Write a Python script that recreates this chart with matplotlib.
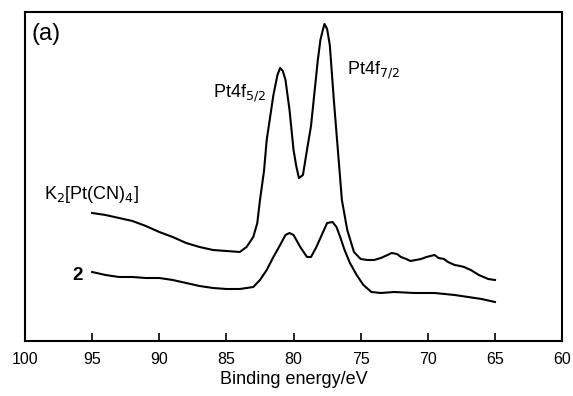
import matplotlib
matplotlib.use("Agg")
import matplotlib.pyplot as plt

# binding energy (eV) and intensity (arb. units)
k2_energy = [95, 94, 93, 92, 91, 90, 89, 88, 87, 86, 85, 84, 83.5, 83, 82.7, 82.5, 82.2, 82, 81.7,
             81.5, 81.2, 81, 80.8, 80.6, 80.3, 80, 79.8, 79.6, 79.3, 79, 78.7, 78.5, 78.2, 78,
             77.8, 77.7, 77.5, 77.3, 77, 76.7, 76.4, 76, 75.5, 75, 74.5, 74, 73.5, 73, 72.7,
             72.3, 72, 71.6, 71.3, 70.9, 70.5, 70.1, 69.8, 69.5, 69.2, 68.8, 68.5, 68, 67.6,
             67.3, 66.8, 66.2, 65.5, 65]
k2_counts = [128, 126, 123, 120, 115, 109, 104, 98, 94, 91, 90, 89, 94, 104, 118, 141, 170, 201, 228,
             246, 266, 273, 270, 261, 231, 191, 175, 163, 166, 191, 215, 241, 280, 301,
             312, 317, 312, 296, 241, 191, 141, 111, 89, 82, 81, 81, 83, 86, 88,
             87, 84, 82, 80, 81, 82, 84, 85, 86, 83, 82, 79, 76, 75,
             74, 71, 66, 62, 61]

cpd2_energy = [95, 94, 93, 92, 91, 90, 89, 88, 87, 86, 85, 84, 83, 82.5, 82, 81.5, 81, 80.6, 80.3,
               80, 79.5, 79, 78.7, 78.3, 77.8, 77.5, 77.1, 76.8, 76.5, 76.2, 75.8, 75.3, 74.8,
               74.2, 73.5, 72.5, 71, 69.5, 68, 67, 66, 65]
cpd2_counts = [69, 66, 64, 64, 63, 63, 61, 58, 55, 53, 52, 52, 54, 61, 71, 84, 96, 106, 108,
               106, 94, 84, 84, 94, 109, 118, 119, 114, 103, 91, 78, 66, 56,
               49, 48, 49, 48, 48, 46, 44, 42, 39]

x_ticks = [100, 95, 90, 85, 80, 75, 70, 65, 60]

plt.rcParams["font.family"] = ["Liberation Sans", "DejaVu Sans"]

fig = plt.figure(figsize=(5.73, 3.96), dpi=100)
ax = fig.add_axes([0.0436, 0.1389, 0.9374, 0.8308])

ax.plot(k2_energy, k2_counts, color="black", lw=1.5)
ax.plot(cpd2_energy, cpd2_counts, color="black", lw=1.5)

ax.set_xlim(100, 60)
ax.set_ylim(0, 329)
ax.set_xticks(x_ticks)
ax.set_xticklabels([str(t) for t in x_ticks], fontsize=11.5)
ax.set_yticks([])
ax.tick_params(axis="x", direction="in", length=6, width=1.2, pad=8)
for s in ax.spines.values():
    s.set_linewidth(1.5)
ax.set_xlabel("Binding energy/eV", fontsize=13, labelpad=3)

ax.text(99.5, 307, "(a)", fontsize=17, ha="left", va="center")
ax.text(86.0, 248, "Pt4f$_{5/2}$", fontsize=13, ha="left", va="center")
ax.text(76.0, 271, "Pt4f$_{7/2}$", fontsize=13, ha="left", va="center")
ax.text(98.6, 146, "K$_2$[Pt(CN)$_4$]", fontsize=13, ha="left", va="center")
ax.text(96.5, 65, "2", fontsize=13.5, fontweight="bold", ha="left", va="center")

fig.savefig("out.png", dpi=100)
